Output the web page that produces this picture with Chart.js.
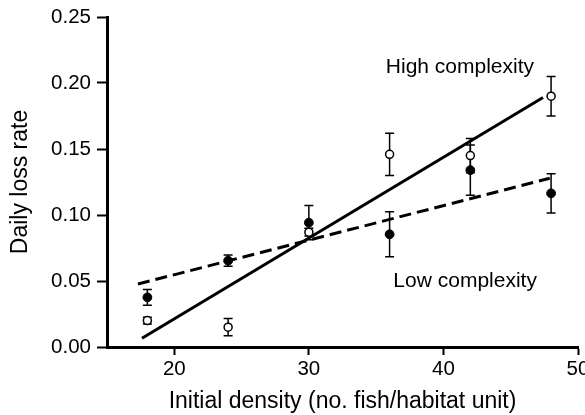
<!DOCTYPE html>
<html>
<head>
<meta charset="utf-8">
<script src="https://cdn.jsdelivr.net/npm/chart.js@4/dist/chart.umd.min.js"></script>
<style>
  html, body { margin: 0; padding: 0; background: #fff; }
  #wrap { width: 585px; height: 415px; }
</style>
</head>
<body>
<div id="wrap"><canvas id="c" width="585" height="415"></canvas></div>
<script>
// ---- data ----
const xValues   = [18, 24, 30, 36, 42, 48];
const highMeans = [0.020, 0.015, 0.087, 0.146, 0.145, 0.190];
const highErr   = [0.0025, 0.0065, 0.003, 0.016, 0.013, 0.015];
const lowMeans  = [0.0376, 0.0654, 0.0942, 0.0854, 0.134, 0.1164];
const lowErr    = [0.006, 0.0043, 0.013, 0.017, 0.019, 0.0148];
const highFitX  = [17.6, 47.4];
const highFitY  = [0.0066, 0.189];
const lowFitX   = [17.3, 47.9];
const lowFitY   = [0.0477, 0.1278];
const xTicks    = [20, 30, 40, 50];
const yTicks    = [0, 0.05, 0.10, 0.15, 0.20, 0.25];
const seriesLabels = ['High complexity', 'Low complexity'];

const FONT = "'Liberation Sans', Arial, Helvetica, sans-serif";
const toPts = (xs, ys) => xs.map((v, i) => ({x: v, y: ys[i]}));

const errorBars = {
  id: 'errorBars',
  beforeDatasetsDraw(chart) {
    const {ctx, scales: {x, y}} = chart;
    ctx.save();
    ctx.strokeStyle = '#000';
    ctx.lineWidth = 1.5;
    [[highMeans, highErr], [lowMeans, lowErr]].forEach(([m, e]) => {
      xValues.forEach((xv, i) => {
        const px = x.getPixelForValue(xv);
        const t = y.getPixelForValue(m[i] + e[i]);
        const b = y.getPixelForValue(m[i] - e[i]);
        ctx.beginPath();
        ctx.moveTo(px, t); ctx.lineTo(px, b);
        ctx.moveTo(px - 4.5, t); ctx.lineTo(px + 4.5, t);
        ctx.moveTo(px - 4.5, b); ctx.lineTo(px + 4.5, b);
        ctx.stroke();
      });
    });
    ctx.restore();
  }
};

const annotations = {
  id: 'annotations',
  afterDatasetsDraw(chart, args, opts) {
    const {ctx, scales: {x, y}} = chart;
    ctx.save();
    ctx.fillStyle = '#000';
    ctx.font = '21px ' + FONT;
    ctx.textAlign = 'left';
    ctx.textBaseline = 'alphabetic';
    opts.items.forEach(it => {
      ctx.fillText(it.text, x.getPixelForValue(it.x), y.getPixelForValue(it.y));
    });
    ctx.restore();
  }
};

new Chart(document.getElementById('c'), {
  type: 'scatter',
  data: {
    datasets: [
      {
        label: seriesLabels[0] + ' means',
        data: toPts(xValues, highMeans),
        pointRadius: 4,
        pointBackgroundColor: '#fff',
        pointBorderColor: '#000',
        pointBorderWidth: 1.5,
        showLine: false
      },
      {
        label: seriesLabels[1] + ' means',
        data: toPts(xValues, lowMeans),
        pointRadius: 4.4,
        pointBackgroundColor: '#000',
        pointBorderColor: '#000',
        pointBorderWidth: 1,
        showLine: false
      },
      {
        label: seriesLabels[0] + ' fit',
        data: toPts(highFitX, highFitY),
        showLine: true,
        borderColor: '#000',
        borderWidth: 3,
        pointRadius: 0,
        fill: false
      },
      {
        label: seriesLabels[1] + ' fit',
        data: toPts(lowFitX, lowFitY),
        showLine: true,
        borderColor: '#000',
        borderWidth: 3,
        borderDash: [12, 6],
        pointRadius: 0,
        fill: false
      }
    ]
  },
  options: {
    responsive: false,
    animation: false,
    layout: { padding: { top: 17, right: 7, left: 0, bottom: 0 } },
    plugins: {
      legend: { display: false },
      tooltip: { enabled: false },
      annotations: {
        items: [
          { text: seriesLabels[0], x: 35.72, y: 0.2078 },
          { text: seriesLabels[1], x: 36.28, y: 0.0452 }
        ]
      }
    },
    scales: {
      x: {
        type: 'linear',
        min: 15, max: 50,
        afterBuildTicks: s => { s.ticks = xTicks.map(v => ({value: v})); },
        afterFit: s => { s.height = 68; s.paddingLeft = 0; s.paddingRight = 0; },
        border: { display: true, color: '#000', width: 3 },
        grid: { drawOnChartArea: false, drawTicks: true, tickLength: 8, tickWidth: 2, tickColor: '#000' },
        ticks: { color: '#000', font: { family: FONT, size: 20.5 }, padding: 2, maxRotation: 0 },
        title: {
          display: true, text: 'Initial density (no. fish/habitat unit)', color: '#000',
          font: { family: FONT, size: 23 }, padding: { top: 0, bottom: 0 }
        }
      },
      y: {
        type: 'linear',
        min: 0, max: 0.25,
        afterBuildTicks: s => { s.ticks = yTicks.map(v => ({value: v})); },
        afterFit: s => { s.width = 107; s.paddingTop = 0; s.paddingBottom = 0; },
        border: { display: true, color: '#000', width: 3 },
        grid: { drawOnChartArea: false, drawTicks: true, tickLength: 10, tickWidth: 2, tickColor: '#000' },
        ticks: { color: '#000', font: { family: FONT, size: 20.5 }, padding: 6,
                 callback: v => Number(v).toFixed(2) },
        title: {
          display: true, text: 'Daily loss rate', color: '#000',
          font: { family: FONT, size: 23 }, padding: { top: 7, bottom: 0 }
        }
      }
    }
  },
  plugins: [errorBars, annotations]
});
</script>
</body>
</html>
